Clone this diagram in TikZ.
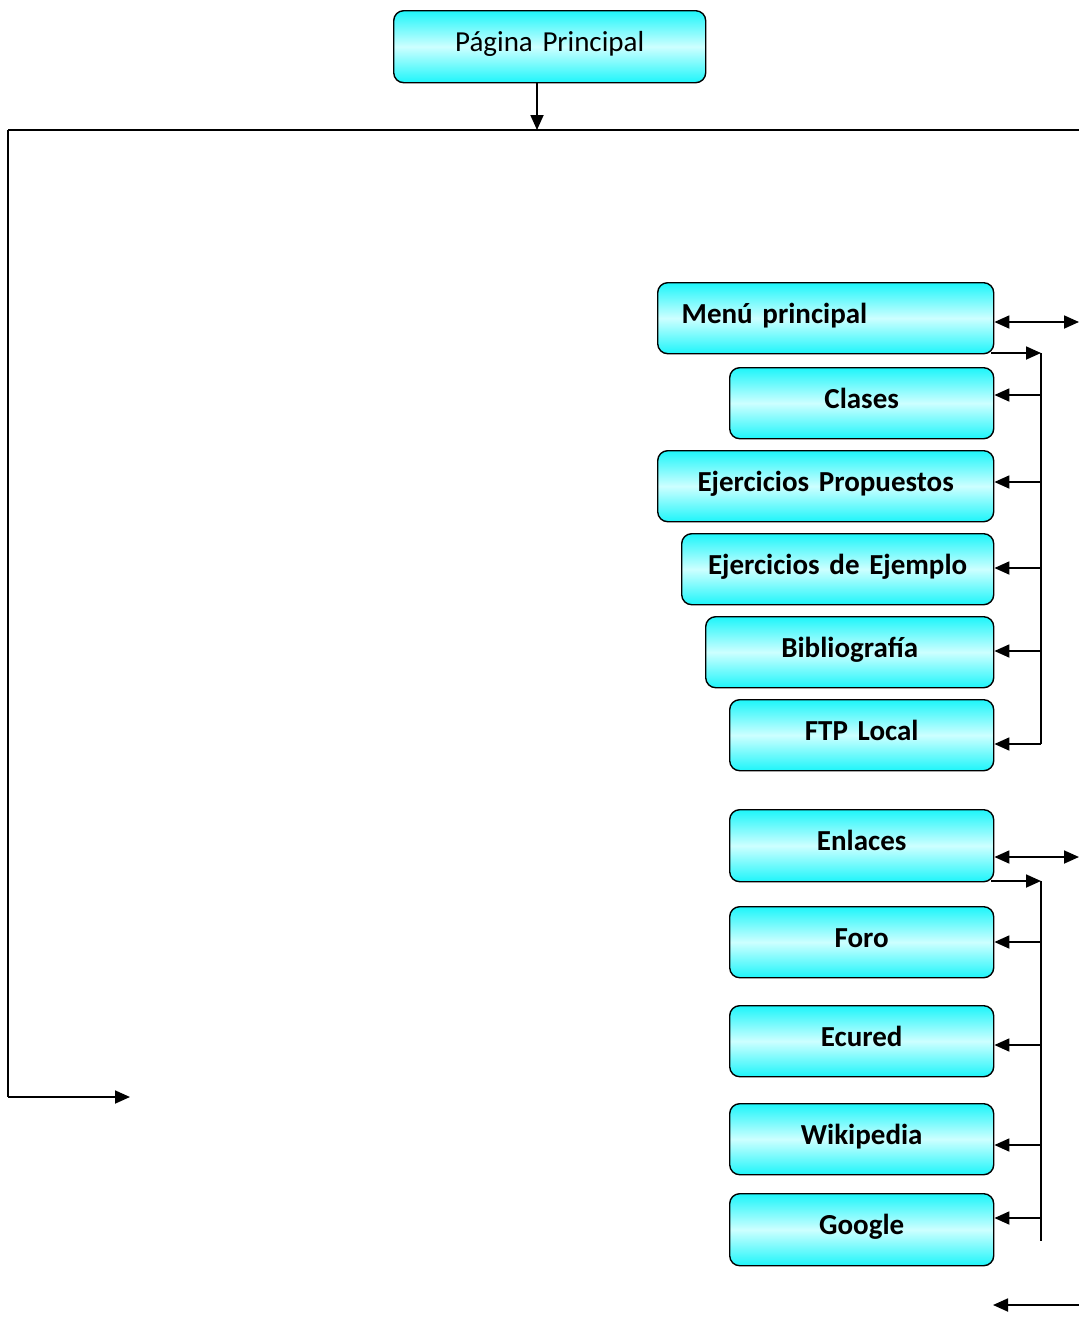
\documentclass[tikz,border=0pt]{standalone}
\usepackage{fontspec}
\setmainfont{Carlito}[WordSpace=0.8]
\usetikzlibrary{arrows.meta}
\definecolor{cyanA}{RGB}{30,245,250}
\definecolor{cyanL}{RGB}{205,255,255}
\tikzset{
  boxbase/.style={draw=black, line width=1.4pt, rounded corners=10pt,
    top color=cyanA, bottom color=cyanA, middle color=cyanL,
    minimum height=71pt, inner xsep=0pt, inner ysep=0pt, anchor=north west,
    text height=20pt, text depth=10pt,
    font=\fontsize{29}{34}\selectfont\bfseries, align=center},
  line/.style={line width=1.8pt, black},
  arr/.style={line, -{Triangle[length=15pt,width=13pt]}},
  darr/.style={line, {Triangle[length=15pt,width=13pt]}-{Triangle[length=15pt,width=13pt]}},
}
\begin{document}
\begin{tikzpicture}[x=1pt,y=-1pt]
\useasboundingbox (0,0) rectangle (1079,1331);
% nodes
\node[boxbase, minimum width=312pt, text width=312pt, minimum height=72pt, font=\fontsize{29}{34}\selectfont] (pp) at (393,10) {Página Principal};
\node[boxbase, minimum width=336pt, text width=288pt, align=left, inner xsep=24pt] (menu) at (657,282) {Menú principal};
\node[boxbase, minimum width=264pt, text width=264pt] (clases) at (729,367) {Clases};
\node[boxbase, minimum width=336pt, text width=336pt] (ejp) at (657,450) {Ejercicios Propuestos};
\node[boxbase, minimum width=312pt, text width=312pt] (eje) at (681,533) {Ejercicios de Ejemplo};
\node[boxbase, minimum width=288pt, text width=288pt] (bib) at (705,616) {Bibliografía};
\node[boxbase, minimum width=264pt, text width=264pt] (ftp) at (729,699) {FTP Local};
\node[boxbase, minimum width=264pt, text width=264pt, minimum height=72pt] (enl) at (729,809) {Enlaces};
\node[boxbase, minimum width=264pt, text width=264pt] (foro) at (729,906) {Foro};
\node[boxbase, minimum width=264pt, text width=264pt] (ecu) at (729,1005) {Ecured};
\node[boxbase, minimum width=264pt, text width=264pt] (wiki) at (729,1103) {Wikipedia};
\node[boxbase, minimum width=264pt, text width=264pt, minimum height=72pt] (goo) at (729,1193) {Google};
% coordinates
\coordinate (bus) at (537,130);
\coordinate (tl) at (8,130);
\coordinate (tr) at (1079,130);
\coordinate (bl) at (8,1097);
\coordinate (blend) at (130,1097);
\coordinate (menuR) at (1079,322);
\coordinate (v1t) at (1041,353);
\coordinate (v1b) at (1041,744);
\coordinate (enlR) at (1079,857);
\coordinate (v2t) at (1041,881);
\coordinate (v2b) at (1041,1241);
\coordinate (botR) at (1079,1305);
\coordinate (botL) at (993,1305);
% connectors
\draw[arr] (pp.south -| bus) -- (bus);
\draw[line] (tl) -- (tr);
\draw[line] (tl) -- (bl);
\draw[arr] (bl) -- (blend);
\draw[darr] (menu.east |- menuR) -- (menuR);
\draw[arr] (991,353) -- (v1t);
\draw[line] (v1t) -- (v1b);
\draw[arr] (v1t |- 0,395) -- (clases.east |- 0,395);
\draw[arr] (v1t |- 0,482) -- (ejp.east |- 0,482);
\draw[arr] (v1t |- 0,568) -- (eje.east |- 0,568);
\draw[arr] (v1t |- 0,651) -- (bib.east |- 0,651);
\draw[arr] (v1b) -- (ftp.east |- v1b);
\draw[darr] (enl.east |- enlR) -- (enlR);
\draw[arr] (991,881) -- (v2t);
\draw[line] (v2t) -- (v2b);
\draw[arr] (v2t |- 0,942) -- (foro.east |- 0,942);
\draw[arr] (v2t |- 0,1045) -- (ecu.east |- 0,1045);
\draw[arr] (v2t |- 0,1145) -- (wiki.east |- 0,1145);
\draw[arr] (v2t |- 0,1218) -- (goo.east |- 0,1218);
\draw[arr] (botR) -- (botL);
\end{tikzpicture}
\end{document}
